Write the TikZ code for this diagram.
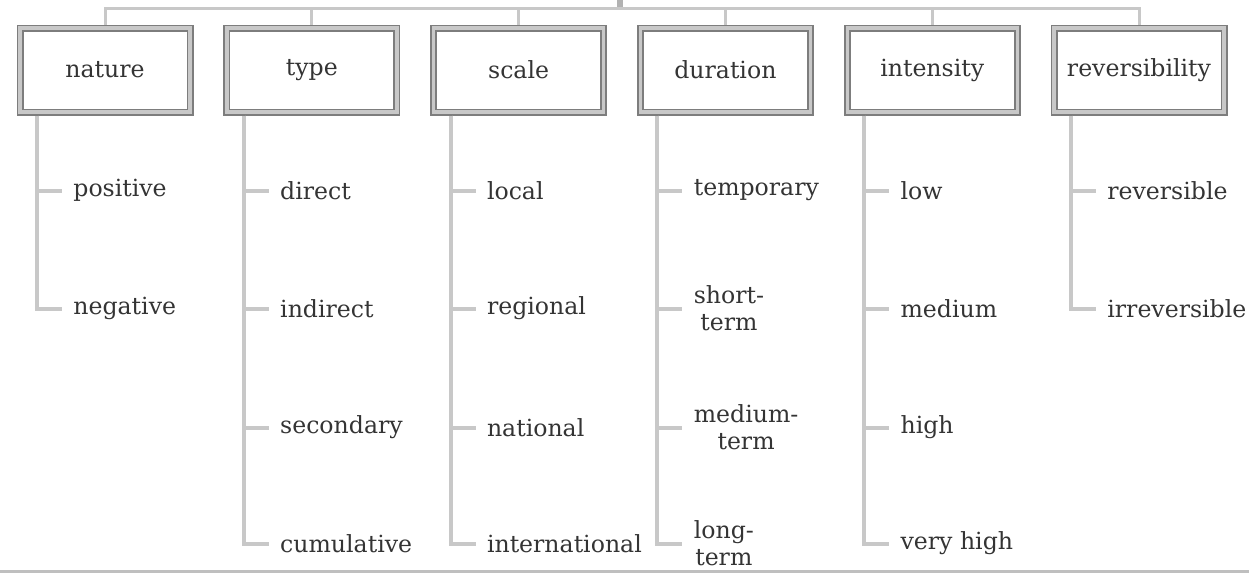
\documentclass[tikz,border=0pt]{standalone}
\usepackage{fontspec}
\setmainfont{DejaVu Serif}
\definecolor{FrameGray}{RGB}{125, 125, 125}
\definecolor{FrameLight}{RGB}{200, 200, 200}
\definecolor{LineGray}{RGB}{200, 200, 200}
\definecolor{TextGray}{RGB}{52, 52, 52}
\usepackage{tikz}
\usetikzlibrary{positioning, calc, shadows}

\begin{document}
\begin{tikzpicture}[x=0.5pt, y=-0.5pt,
        category/.style={rectangle, draw=FrameGray, line width=0.9pt, double=FrameLight, double distance=1.7pt, fill=white, minimum width=85pt, minimum height=42pt, inner sep=0pt, outer sep=1.75pt, text=TextGray, font=\fontsize{11.8}{13.5}\selectfont, drop shadow={shadow xshift=1pt, shadow yshift=-1.5pt, fill=black, opacity=0.18}},
        leaf/.style={anchor=west, align=center, inner sep=0pt, text=TextGray, font=\fontsize{11.8}{13.5}\selectfont},
        branch/.style={draw=LineGray, line width=2pt},
        link/.style={draw=LineGray, line width=1.5pt}
    ]
        \useasboundingbox (0,0) rectangle (1249,575);
        \draw[draw=black!25, line width=1.5pt] (0,571) -- (1249,571);

        % category boxes
        \node[category] (nature) at (105,70) {nature};
        \node[category, right=14.9pt of nature] (type) {type};
        \node[category, right=14.9pt of type] (scale) {scale};
        \node[category, right=14.9pt of scale] (duration) {duration};
        \node[category, right=14.9pt of duration] (intensity) {intensity};
        \node[category, right=14.9pt of intensity] (revers) {reversibility};

        % links to the (cut off) root
        \coordinate (root) at (620,0);
        \coordinate (hub) at (620,8);
        \draw[link, draw=black!30, line width=3pt] (root) -- (hub);
        \draw[link] (hub) -| (nature.north);
        \draw[link] (hub) -| (type.north);
        \draw[link] (hub) -| (scale.north);
        \draw[link] (hub) -| (duration.north);
        \draw[link] (hub) -| (intensity.north);
        \draw[link] (hub) -| (revers.north);

        % sub-items
        \node[leaf] (pos) at ($(nature.south)+(-32,75)$) {positive};
        \node[leaf] (neg) at ($(nature.south)+(-32,193)$) {negative};
        \node[leaf] (direct) at ($(type.south)+(-32,75)$) {direct};
        \node[leaf] (indirect) at ($(type.south)+(-32,193)$) {indirect};
        \node[leaf] (secondary) at ($(type.south)+(-32,312)$) {secondary};
        \node[leaf] (cumul) at ($(type.south)+(-32,428)$) {cumulative};
        \node[leaf] (local) at ($(scale.south)+(-32,75)$) {local};
        \node[leaf] (regional) at ($(scale.south)+(-32,193)$) {regional};
        \node[leaf] (national) at ($(scale.south)+(-32,312)$) {national};
        \node[leaf] (intl) at ($(scale.south)+(-32,428)$) {international};
        \node[leaf] (temp) at ($(duration.south)+(-32,75)$) {temporary};
        \node[leaf] (short) at ($(duration.south)+(-32,193)$) {short-\\term};
        \node[leaf] (medium) at ($(duration.south)+(-32,312)$) {medium-\\term};
        \node[leaf] (long) at ($(duration.south)+(-32,428)$) {long-\\term};
        \node[leaf] (low) at ($(intensity.south)+(-32,75)$) {low};
        \node[leaf] (med) at ($(intensity.south)+(-32,193)$) {medium};
        \node[leaf] (high) at ($(intensity.south)+(-32,312)$) {high};
        \node[leaf] (vhigh) at ($(intensity.south)+(-32,428)$) {very high};
        \node[leaf] (rev) at ($(revers.south)+(-32,75)$) {reversible};
        \node[leaf] (irrev) at ($(revers.south)+(-32,193)$) {irreversible};

        \draw[branch] ([xshift=-34pt]nature.south) |- ([xshift=-5.5pt]pos.west);
        \draw[branch] ([xshift=-34pt]nature.south) |- ([xshift=-5.5pt]neg.west);
        \draw[branch] ([xshift=-34pt]type.south) |- ([xshift=-5.5pt]direct.west);
        \draw[branch] ([xshift=-34pt]type.south) |- ([xshift=-5.5pt]indirect.west);
        \draw[branch] ([xshift=-34pt]type.south) |- ([xshift=-5.5pt]secondary.west);
        \draw[branch] ([xshift=-34pt]type.south) |- ([xshift=-5.5pt]cumul.west);
        \draw[branch] ([xshift=-34pt]scale.south) |- ([xshift=-5.5pt]local.west);
        \draw[branch] ([xshift=-34pt]scale.south) |- ([xshift=-5.5pt]regional.west);
        \draw[branch] ([xshift=-34pt]scale.south) |- ([xshift=-5.5pt]national.west);
        \draw[branch] ([xshift=-34pt]scale.south) |- ([xshift=-5.5pt]intl.west);
        \draw[branch] ([xshift=-34pt]duration.south) |- ([xshift=-5.5pt]temp.west);
        \draw[branch] ([xshift=-34pt]duration.south) |- ([xshift=-5.5pt]short.west);
        \draw[branch] ([xshift=-34pt]duration.south) |- ([xshift=-5.5pt]medium.west);
        \draw[branch] ([xshift=-34pt]duration.south) |- ([xshift=-5.5pt]long.west);
        \draw[branch] ([xshift=-34pt]intensity.south) |- ([xshift=-5.5pt]low.west);
        \draw[branch] ([xshift=-34pt]intensity.south) |- ([xshift=-5.5pt]med.west);
        \draw[branch] ([xshift=-34pt]intensity.south) |- ([xshift=-5.5pt]high.west);
        \draw[branch] ([xshift=-34pt]intensity.south) |- ([xshift=-5.5pt]vhigh.west);
        \draw[branch] ([xshift=-34pt]revers.south) |- ([xshift=-5.5pt]rev.west);
        \draw[branch] ([xshift=-34pt]revers.south) |- ([xshift=-5.5pt]irrev.west);
    \end{tikzpicture}
\end{document}
